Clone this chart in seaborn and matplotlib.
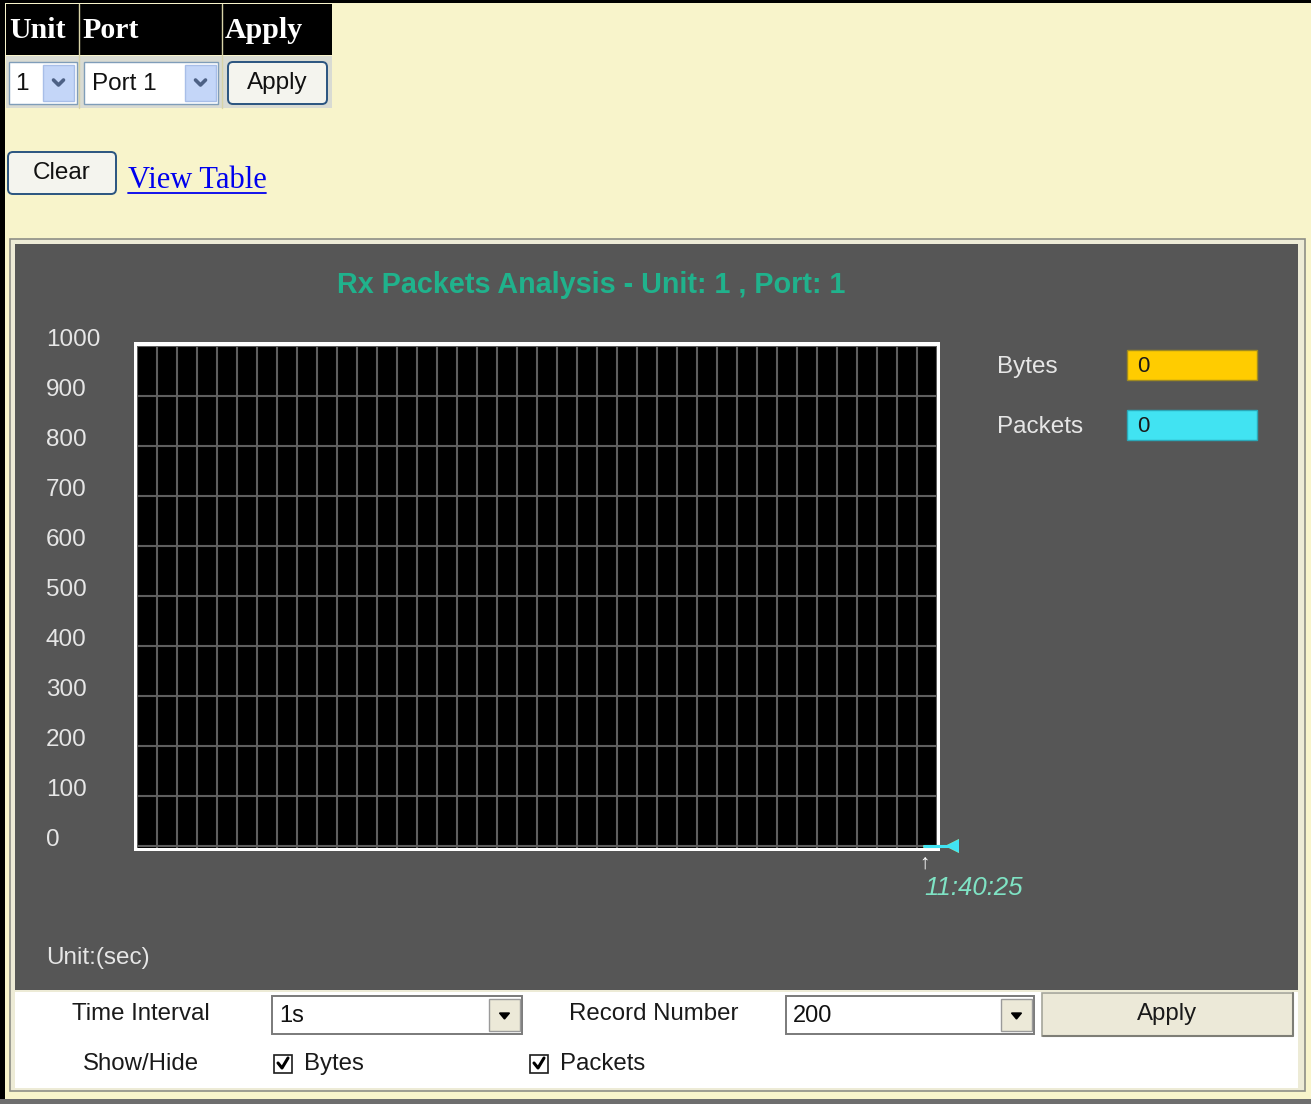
import matplotlib
matplotlib.use("Agg")
import numpy as np
import pandas as pd
import matplotlib.pyplot as plt
import seaborn as sns
from matplotlib.patches import Rectangle, FancyBboxPatch, Polygon

# dados do grafico
y_ticks = [0, 100, 200, 300, 400, 500, 600, 700, 800, 900, 1000]
n_colunas = 40
amostra_x = [39.35, 40.75]
bytes_vals = [0, 0]
packets_vals = [0, 0]
hora_labels = ["11:40:25"]
series_nomes = ["Bytes", "Packets"]
series_atual = [0, 0]
series_cores = ["#FFCC00", "#41E3F2"]
titulo = "Rx Packets Analysis - Unit: 1 , Port: 1"

sns.set_theme(style="dark")
plt.rcParams['font.family'] = ['Liberation Sans', 'DejaVu Sans']

W, H = 1311, 1104
fig = plt.figure(figsize=(W / 100, H / 100), dpi=100)
fig.patch.set_facecolor('#F8F4CB')

# camada da pagina em pixels
ui = fig.add_axes([0, 0, 1, 1])
ui.set_xlim(0, W)
ui.set_ylim(H, 0)
ui.axis('off')


def caixa(x0, y0, x1, y1, fc, ec='none', lw=0, z=1):
    ui.add_patch(Rectangle((x0, y0), x1 - x0, y1 - y0, fc=fc, ec=ec, lw=lw, zorder=z))


def botao(x0, y0, x1, y1, texto, tam=17.5):
    ui.add_patch(FancyBboxPatch((x0 + 3, y0 + 3), x1 - x0 - 6, y1 - y0 - 6,
                                boxstyle="round,pad=3,rounding_size=5",
                                fc='#F4F4EE', ec='#2A5480', lw=1.4, zorder=2))
    ui.text((x0 + x1) / 2, (y0 + y1) / 2, texto, ha='center', va='center',
            fontsize=tam, color='#111111', zorder=3)


def seta_azul(x0, y0, x1, y1):
    caixa(x0, y0, x1, y1, '#C4D6F8', '#A8BEE8', 1, z=2)
    cx, cy = (x0 + x1) / 2, (y0 + y1) / 2
    ui.plot([cx - 5, cx, cx + 5], [cy - 3, cy + 2, cy - 3], color='#4D6185', lw=2.6, zorder=3)


# bordas da pagina
caixa(0, 0, 5, H, 'black', z=5)
caixa(0, 0, W, 3, 'black', z=5)
caixa(0, 1099, W, H, '#6E6E6E', z=5)

# tabela Unit / Port / Apply
caixa(6, 4, 332, 55, 'black')
for xs in [79, 222]:
    ui.plot([xs, xs], [4, 108], color='#D8D4A8', lw=1, zorder=3)
for xt, txt in zip([9, 82, 225], ['Unit', 'Port', 'Apply']):
    ui.text(xt, 31, txt, family=['Liberation Serif'], weight='bold', color='white',
            fontsize=21.5, va='center')
caixa(6, 56, 332, 108, '#D9DBD3')
caixa(9, 62, 77, 104, 'white', '#7F9DB9', 1, z=2)
ui.text(15, 84, '1', fontsize=17.5, va='center', color='#111111', zorder=3)
seta_azul(43, 65, 74, 101)
caixa(84, 62, 218, 104, 'white', '#7F9DB9', 1, z=2)
ui.text(92, 84, 'Port 1', fontsize=17.5, va='center', color='#111111', zorder=3)
seta_azul(185, 65, 216, 101)
botao(228, 62, 327, 104, 'Apply')

botao(8, 152, 116, 194, 'Clear')
ui.text(128, 180, 'View Table', family=['Liberation Serif'], color='#0000EE', fontsize=22, va='center')
ui.plot([128, 266], [193, 193], color='#0000EE', lw=1.3)

# painel do grafico
caixa(10, 239, 1305, 1091, '#EDEBD6', '#8E8E86', 1.2)
caixa(15, 244, 1298, 990, '#565656', z=2)
caixa(15, 992, 1298, 1088, 'white', z=2)
ui.text(591, 285, titulo, ha='center', va='center', color='#20B28C',
        fontsize=20.7, weight='bold', zorder=3)
ui.text(46, 958, 'Unit:(sec)', va='center', color='#E6E6E6', fontsize=17.5, zorder=3)

# moldura branca do grafico
caixa(134, 342, 940, 851, 'white', z=3)

ax = fig.add_axes([137 / W, 1 - 848 / H, 800 / W, 502 / H])
ax.set_facecolor('black')
ax.set_xlim(0, n_colunas)
ax.set_ylim(-4, 1000)
ax.set_xticks(np.arange(0, n_colunas + 1))
ax.set_yticks(y_ticks)
ax.grid(True, color='#5E5E5E', lw=1.5)
ax.tick_params(length=0, labelbottom=False, labelleft=False)
for s in ax.spines.values():
    s.set_visible(False)

for v in y_ticks:
    ax.text(-0.11375, v, str(v), transform=ax.get_yaxis_transform(), ha='left',
            va='baseline', color='#E6E6E6', fontsize=17.5)

df = pd.DataFrame({
    'x': amostra_x * 2,
    'valor': bytes_vals + packets_vals,
    'serie': [series_nomes[0]] * len(amostra_x) + [series_nomes[1]] * len(amostra_x),
})
sns.lineplot(data=df, x='x', y='valor', hue='serie', palette=series_cores, legend=False,
             ax=ax, marker='<', markevery=[1], markersize=10, markeredgewidth=0,
             lw=2.2, clip_on=False)
ax.set_xlabel('')
ax.set_ylabel('')

ax.text(amostra_x[0] + 0.03, -0.03, '\u2191', transform=ax.get_xaxis_transform(), ha='center',
        va='center', color='white', fontsize=15, clip_on=False)
ax.text(amostra_x[0], -0.0797, hora_labels[0], transform=ax.get_xaxis_transform(), ha='left',
        va='center', color='#7FE3C4', fontsize=18.5, style='italic', clip_on=False)

# legenda com valores atuais
for i, (nome, val, cor) in enumerate(zip(series_nomes, series_atual, series_cores)):
    yc = 367 + 60 * i
    ui.text(997, yc, nome, va='center', color='#E6E6E6', fontsize=17.5, zorder=3)
    caixa(1127, yc - 17, 1257, yc + 13, cor, '#A08A20' if i == 0 else '#2AA8B8', 1, z=3)
    ui.text(1137, yc, str(val), va='center', color='#1A1A1A', fontsize=16, zorder=4)

# controles inferiores
def selecao(x0, x1, texto):
    caixa(x0, 996, x1, 1034, 'white', '#7A7A7A', 1.4, z=3)
    ui.text(x0 + 7, 1016, texto, va='center', fontsize=17, color='#111111', zorder=4)
    caixa(x1 - 33, 999, x1 - 2, 1031, '#ECE9D8', '#9A9A9A', 1, z=4)
    cx = x1 - 17.5
    ui.add_patch(Polygon([[cx - 5, 1013], [cx + 5, 1013], [cx, 1019]], closed=True,
                         fc='black', ec='black', zorder=5))


ui.text(141, 1014, 'Time Interval', ha='center', va='center', fontsize=17.3, color='#1A1A1A', zorder=3)
selecao(272, 522, '1s')
ui.text(654, 1014, 'Record Number', ha='center', va='center', fontsize=17.3, color='#1A1A1A', zorder=3)
selecao(786, 1034, '200')
caixa(1042, 993, 1293, 1036, '#ECE9D8', '#A5A59A', 1.2, z=3)
ui.plot([1043, 1293, 1293], [1036, 1036, 993], color='#7E7E76', lw=1.5, zorder=4)
ui.text(1167, 1014, 'Apply', ha='center', va='center', fontsize=17.3, color='#1A1A1A', zorder=4)

ui.text(141, 1064, 'Show/Hide', ha='center', va='center', fontsize=17.3, color='#1A1A1A', zorder=3)
for x0, nome in zip([274, 530], series_nomes):
    caixa(x0, 1055, x0 + 18, 1073, 'white', '#1C1C1C', 1.2, z=3)
    ui.plot([x0 + 4, x0 + 8, x0 + 14], [1063, 1068, 1058], color='black', lw=2.2, zorder=4)
    ui.text(x0 + 30, 1064, nome, va='center', fontsize=17.3, color='#1A1A1A', zorder=3)

fig.savefig('out.png', dpi=100, facecolor=fig.get_facecolor())
